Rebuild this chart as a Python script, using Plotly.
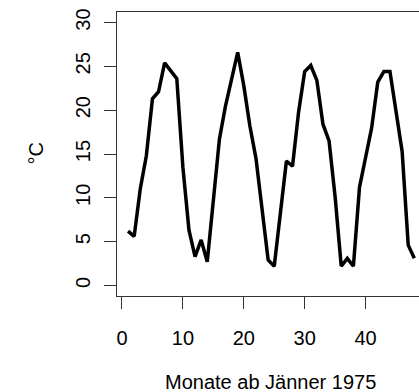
import plotly.graph_objects as go

# Data: monthly temperature, months since January 1975
months = list(range(1, 49))
temps = [6.2, 5.6, 11.0, 14.8, 21.3, 22.1, 25.4, 24.5, 23.6, 13.5,
         6.3, 3.3, 5.2, 2.7, 10.0, 16.7, 20.5, 23.6, 26.6, 22.8,
         18.2, 14.5, 9.0, 2.9, 2.2, 8.0, 14.2, 13.6, 19.8, 24.4,
         25.1, 23.4, 18.4, 16.5, 10.1, 2.2, 3.1, 2.2, 11.2, 14.6,
         18.0, 23.2, 24.4, 24.4, 20.0, 15.3, 4.6, 3.1]
x_ticks = [0, 10, 20, 30, 40]
y_ticks = [0, 5, 10, 15, 20, 25, 30]
x_title = "Monate ab Jänner 1975"
y_title = "°C"

W, H = 419, 392
L, R, T, B = 117, 0, 12, 96
pw = W - L - R
ph = H - T - B

font = dict(family="Liberation Sans, Arial, sans-serif", size=20, color="black")

fig = go.Figure()
fig.add_trace(go.Scatter(x=months, y=temps, mode="lines",
                         line=dict(color="black", width=3.5),
                         hoverinfo="skip"))

fig.update_layout(
    width=W, height=H,
    margin=dict(l=L, r=R, t=T, b=B, pad=0),
    paper_bgcolor="white", plot_bgcolor="white",
    showlegend=False,
    font=font,
    xaxis=dict(range=[-0.82, -0.82 + pw / 6.09], tickvals=x_ticks,
               ticktext=[str(v) for v in x_ticks],
               showgrid=False, zeroline=False,
               showline=True, linecolor="#333", linewidth=1, mirror=True,
               ticks="outside", ticklen=12, tickcolor="#333", tickwidth=1,
               ticklabelstandoff=12, tickfont=font, fixedrange=True),
    yaxis=dict(range=[-1.2, 31.2], tickvals=y_ticks,
               ticktext=[str(v) for v in y_ticks],
               showgrid=False, zeroline=False,
               showline=True, linecolor="#333", linewidth=1, mirror=False,
               ticks="outside", ticklen=12, tickcolor="#333", tickwidth=1,
               tickangle=-90, ticklabelstandoff=6, tickfont=font,
               fixedrange=True),
    annotations=[
        dict(text=x_title, xref="paper", yref="paper",
             x=(270 - L) / pw, y=(T + ph - 382) / ph,
             xanchor="center", yanchor="middle", showarrow=False, font=font),
        dict(text=y_title, xref="paper", yref="paper",
             x=(35.5 - L) / pw, y=0.5, textangle=-90,
             xanchor="center", yanchor="middle", showarrow=False, font=font),
    ],
)

fig.write_html("out.html")
